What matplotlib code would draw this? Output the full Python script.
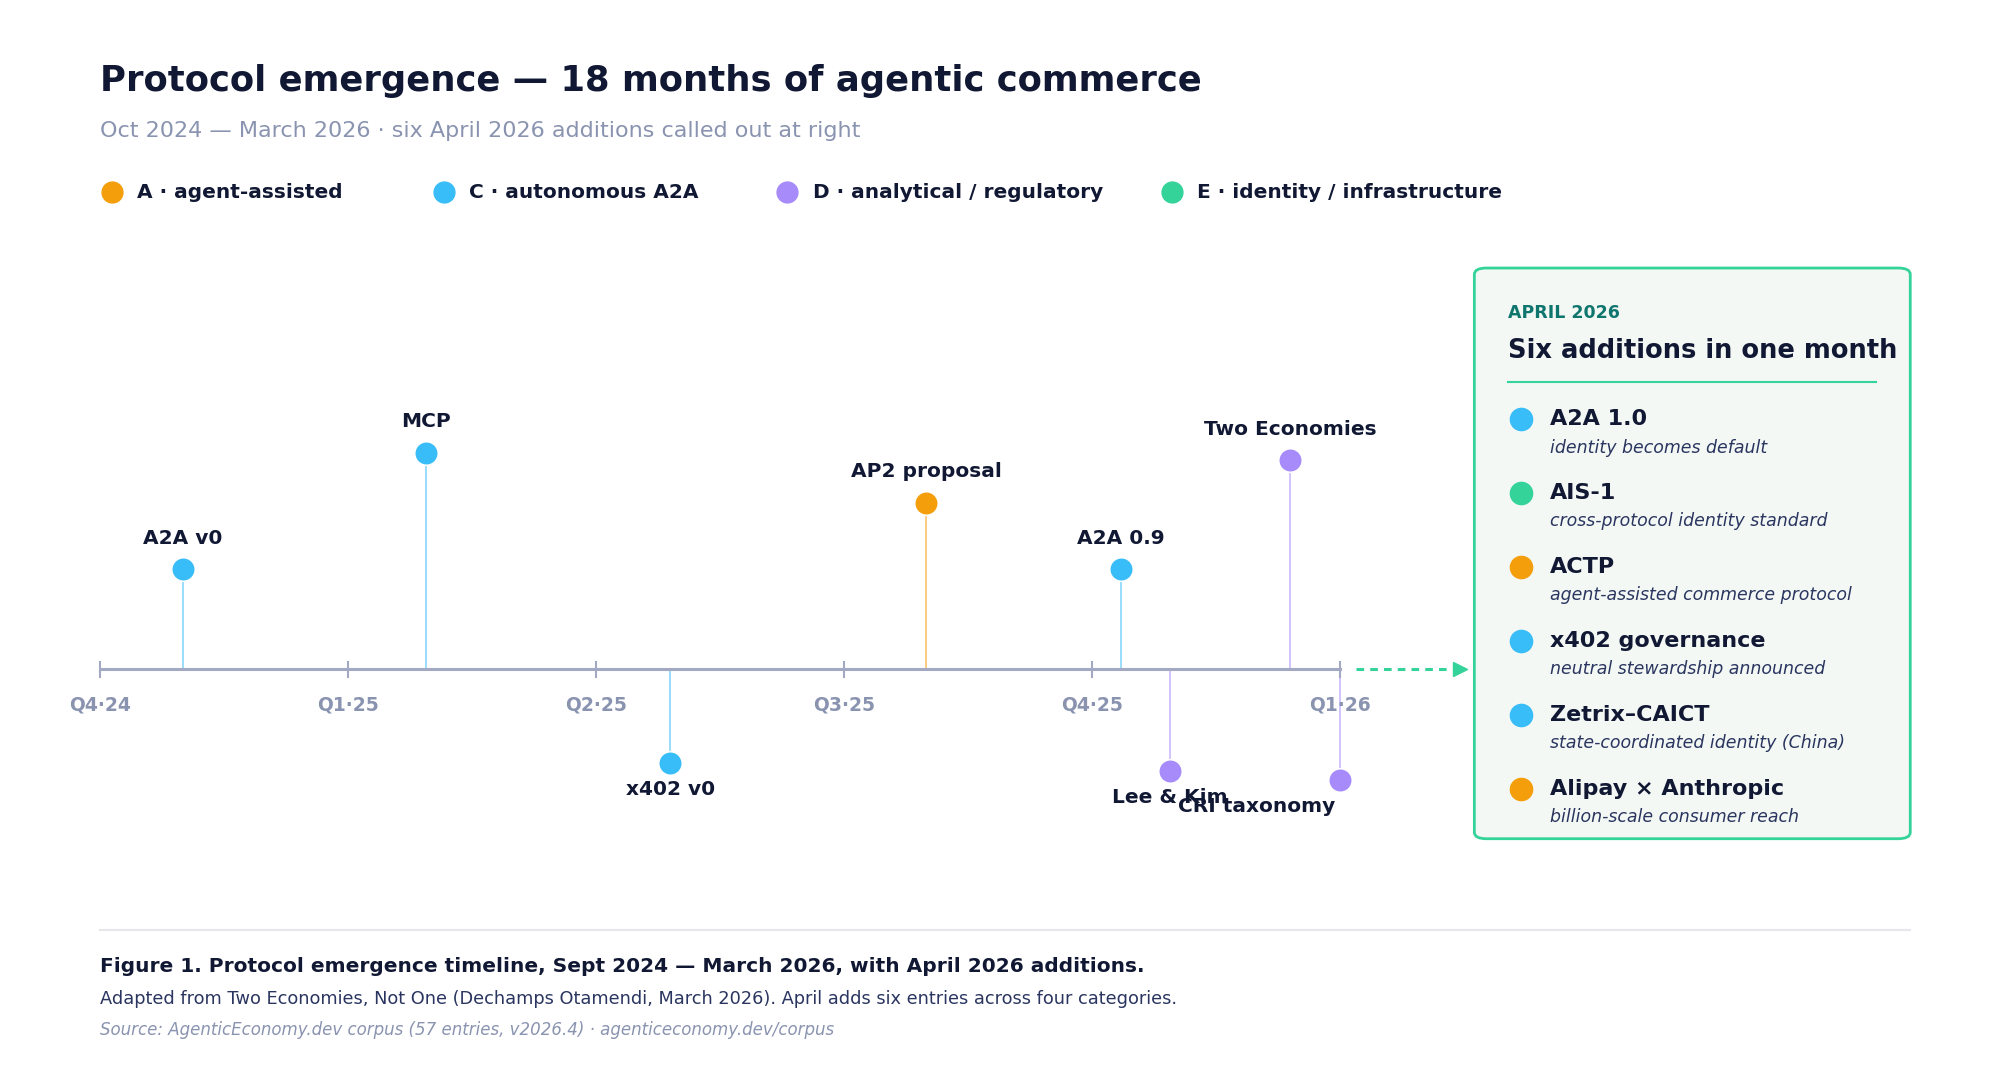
import matplotlib
matplotlib.use("Agg")
import matplotlib.pyplot as plt
from matplotlib.patches import FancyBboxPatch
from matplotlib.lines import Line2D

plt.rcParams['font.family'] = ['DejaVu Sans']

# ---- data ----
cat_colors = {"A": "#f59e0b", "C": "#38bdf8", "D": "#a78bfa", "E": "#34d399"}
legend_labels = ["A · agent-assisted", "C · autonomous A2A",
                 "D · analytical / regulatory", "E · identity / infrastructure"]
legend_cats = ["A", "C", "D", "E"]

quarter_labels = ["Q4·24", "Q1·25", "Q2·25", "Q3·25", "Q4·25", "Q1·26"]
quarter_months = [0, 3, 6, 9, 12, 15]

event_names = ["A2A v0", "MCP", "x402 v0", "AP2 proposal", "A2A 0.9",
               "Lee & Kim", "Two Economies", "CRI taxonomy"]
event_month = [1.0, 3.95, 6.9, 10.0, 12.35, 12.95, 14.4, 15.0]
event_height = [78, 169, -73, 130, 78, -79, 163, -86]
event_cat = ["C", "C", "C", "A", "C", "D", "D", "D"]

april_names = ["A2A 1.0", "AIS-1", "ACTP", "x402 governance", "Zetrix–CAICT",
               "Alipay × Anthropic"]
april_desc = ["identity becomes default", "cross-protocol identity standard",
              "agent-assisted commerce protocol", "neutral stewardship announced",
              "state-coordinated identity (China)", "billion-scale consumer reach"]
april_cat = ["C", "E", "A", "C", "C", "A"]

DARK = "#111833"
GREY = "#8a94b0"
W, H = 1560.0, 832.0
def fx(px): return px / W
def fy(py): return 1 - py / H

fig = plt.figure(figsize=(20, 10.67), dpi=100)
fig.patch.set_facecolor("white")

ppm = (1045 - 78) / 15.0
ax = fig.add_axes([0, 0, 1, 1])
ax.set_xlim(-78 / ppm, (W - 78) / ppm)
ax.set_ylim(-(H - 522), 522)
ax.axis("off")

ax.plot([0, 15], [0, 0], color="#a3a9c2", lw=2.2, zorder=2)
for m, lab in zip(quarter_months, quarter_labels):
    ax.plot([m, m], [-6, 6], color="#a3a9c2", lw=1.5, zorder=2)
    ax.text(m, -28, lab, ha="center", va="center", fontsize=13.5,
            fontweight="bold", color=GREY)

for i, (name, m, h, c) in enumerate(zip(event_names, event_month, event_height, event_cat)):
    col = cat_colors[c]
    ax.plot([m, m], [0, h], color=col, lw=1.2, alpha=0.6, zorder=1)
    ax.plot(m, h, "o", ms=17, color=col, mec="white", mew=1.2, zorder=3)
    if h > 0:
        ax.text(m, h + 24, name, ha="center", va="center", fontsize=14.5,
                fontweight="bold", color=DARK)
    else:
        # last label sits shifted left in the reference
        lx = m - 1.0 if i == len(event_names) - 1 else m
        ax.text(lx, h - 21, name, ha="center", va="center", fontsize=14.5,
                fontweight="bold", color=DARK)

ax.plot([15.2, 16.3], [0, 0], color="#34d399", lw=2.2, ls=(0, (2.5, 2)), zorder=2)
ax.plot(16.45, 0, marker=">", ms=10, color="#34d399", zorder=2)

fig.text(fx(78), fy(63), "Protocol emergence — 18 months of agentic commerce",
         fontsize=25.5, fontweight="bold", color=DARK, va="center")
fig.text(fx(78), fy(102), "Oct 2024 — March 2026 · six April 2026 additions called out at right",
         fontsize=16, color=GREY, va="center")

leg_x = [87, 346, 614, 914]
for x, c, lab in zip(leg_x, legend_cats, legend_labels):
    fig.add_artist(Line2D([fx(x)], [fy(150)], marker="o", ms=15, color=cat_colors[c],
                          transform=fig.transFigure))
    fig.text(fx(x + 20), fy(150), lab, fontsize=14.5, fontweight="bold",
             color=DARK, va="center")

box = FancyBboxPatch((fx(1150), fy(654)), fx(1490) - fx(1150), fy(209) - fy(654),
                     boxstyle="round,pad=0,rounding_size=0.006",
                     transform=fig.transFigure, facecolor="#f3f8f4",
                     edgecolor="#34d399", lw=2)
fig.add_artist(box)
fig.text(fx(1176), fy(244), "APRIL 2026", fontsize=12.5, fontweight="bold",
         color="#0f766e", va="center")
fig.text(fx(1176), fy(274), "Six additions in one month", fontsize=18.5,
         fontweight="bold", color=DARK, va="center")
fig.add_artist(Line2D([fx(1176), fx(1463)], [fy(298), fy(298)], color="#34d399",
                      lw=1.5, transform=fig.transFigure))
for i, (n, d, c) in enumerate(zip(april_names, april_desc, april_cat)):
    y = 327 + i * 57.6
    fig.add_artist(Line2D([fx(1186)], [fy(y)], marker="o", ms=16, color=cat_colors[c],
                          transform=fig.transFigure))
    fig.text(fx(1209), fy(y), n, fontsize=16, fontweight="bold", color=DARK, va="center")
    fig.text(fx(1209), fy(y + 22), d, fontsize=12.5, style="italic", color="#2a3560",
             va="center")

fig.add_artist(Line2D([fx(78), fx(1490)], [fy(725), fy(725)], color="#e5e7eb",
                      lw=1.5, transform=fig.transFigure))
fig.text(fx(78), fy(754), "Figure 1. Protocol emergence timeline, Sept 2024 — March 2026, with April 2026 additions.",
         fontsize=14.5, fontweight="bold", color=DARK, va="center")
fig.text(fx(78), fy(779), "Adapted from Two Economies, Not One (Dechamps Otamendi, March 2026). April adds six entries across four categories.",
         fontsize=12.8, color="#2a3560", va="center")
fig.text(fx(78), fy(803), "Source: AgenticEconomy.dev corpus (57 entries, v2026.4) · agenticeconomy.dev/corpus",
         fontsize=12, style="italic", color=GREY, va="center")

fig.savefig("out.png", dpi=100, facecolor="white")
